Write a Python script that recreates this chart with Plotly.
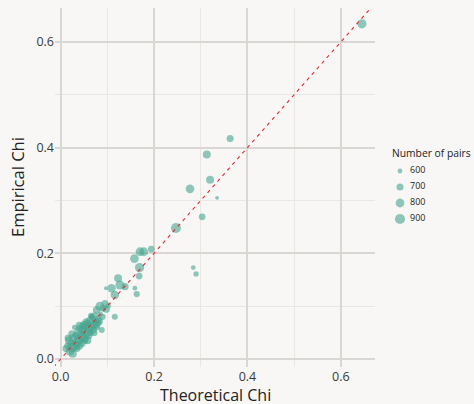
import numpy as np
import plotly.graph_objects as go

# Theoretical vs empirical chi for each pair of sites, with the number of pairs
theoretical_chi = [
    0.645, 0.363, 0.313, 0.320, 0.277, 0.335, 0.303, 0.247,
    0.170, 0.178, 0.194, 0.158, 0.169, 0.168, 0.284, 0.290,
    0.123, 0.097, 0.109, 0.127, 0.138, 0.159, 0.116, 0.163,
    0.084, 0.095, 0.077, 0.098, 0.116, 0.066, 0.102, 0.091,
    0.020, 0.025, 0.022, 0.030, 0.028, 0.035, 0.033, 0.040,
    0.038, 0.045, 0.042, 0.050, 0.048, 0.055, 0.053, 0.060,
    0.058, 0.065, 0.062, 0.070, 0.068, 0.075, 0.073, 0.080,
    0.078, 0.085, 0.088, 0.045, 0.035, 0.060, 0.030, 0.016,
    0.015, 0.026, 0.058, 0.072, 0.050, 0.082,
    0.012, 0.018, 0.024, 0.040, 0.052, 0.064, 0.070, 0.076,
    0.083, 0.090, 0.055, 0.047, 0.040, 0.065,
]
empirical_chi = [
    0.634, 0.417, 0.387, 0.339, 0.322, 0.305, 0.269, 0.248,
    0.203, 0.203, 0.208, 0.190, 0.173, 0.157, 0.173, 0.161,
    0.153, 0.134, 0.134, 0.140, 0.137, 0.134, 0.121, 0.123,
    0.100, 0.105, 0.093, 0.094, 0.080, 0.080, 0.101, 0.096,
    0.015, 0.022, 0.030, 0.025, 0.040, 0.032, 0.045, 0.038,
    0.052, 0.045, 0.058, 0.040, 0.055, 0.050, 0.062, 0.058,
    0.068, 0.060, 0.072, 0.065, 0.078, 0.070, 0.082, 0.075,
    0.060, 0.085, 0.055, 0.030, 0.020, 0.045, 0.060, 0.040,
    0.025, 0.010, 0.035, 0.050, 0.066, 0.068,
    0.020, 0.035, 0.048, 0.025, 0.035, 0.050, 0.055, 0.065,
    0.072, 0.080, 0.070, 0.063, 0.064, 0.082,
]
n_pairs = [
    830, 700, 750, 750, 795, 570, 680, 885,
    800, 800, 680, 800, 835, 680, 600, 620,
    750, 570, 780, 820, 700, 600, 780, 660,
    800, 700, 720, 700, 650, 640, 620, 680,
    800, 850, 700, 900, 780, 820, 700, 880,
    760, 800, 720, 850, 780, 900, 700, 820,
    680, 760, 740, 800, 660, 720, 700, 680,
    640, 620, 650, 760, 700, 740, 620, 700,
    680, 760, 720, 680, 700, 660,
    720, 760, 700, 740, 700, 680, 700, 740,
    700, 660, 720, 680, 700, 640,
]
legend_pairs = [600, 700, 800, 900]
legend_title = "Number of pairs"
x_title = "Theoretical Chi"
y_title = "Empirical Chi"

BG = "#f8f7f5"
POINT = "#46a590"
MAJOR = "#d9d7d4"
MINOR = "#e9e7e4"
TEXT = "#222222"
X_RANGE = [-0.012, 0.673]
Y_RANGE = [-0.015, 0.664]

W, H = 474, 404
M_L, M_T, M_B = 55, 8, 37
PLOT_RIGHT = 375           # right edge of the panel (px)
KEY_LEFT = 385             # left edge of the size key (px)
KEY_FIRST_ROW, KEY_ROW_STEP = 171, 16


def point_diameter(n):
    """Marker diameter (px) for a pair count, scaled by area."""
    n = np.asarray(n, dtype=float)
    return 10.2 * np.sqrt(np.clip(n - 515.0, 1.0, None) / 385.0)


inner_w = W - M_L
inner_h = H - M_T - M_B
panel_frac = (PLOT_RIGHT - M_L) / inner_w

fig = go.Figure()

fig.add_trace(go.Scatter(
    x=theoretical_chi, y=empirical_chi, mode="markers",
    marker=dict(size=point_diameter(n_pairs), color=POINT, opacity=0.6,
                line=dict(width=0)),
    showlegend=False, hoverinfo="skip",
))

# 1:1 reference line across the full axis span
lo, hi = min(X_RANGE[0], Y_RANGE[0]), max(X_RANGE[1], Y_RANGE[1])
fig.add_trace(go.Scatter(
    x=[lo, hi], y=[lo, hi], mode="lines",
    line=dict(color="#e4262f", width=1.1, dash="3.5px,4px"),
    showlegend=False, hoverinfo="skip",
))

# size key, drawn on its own hidden axes to the right of the panel
rows = list(range(len(legend_pairs)))
key_bottom = len(rows) - 1 + (M_T + inner_h - (KEY_FIRST_ROW + KEY_ROW_STEP * (len(rows) - 1))) / KEY_ROW_STEP
key_top = -(KEY_FIRST_ROW - M_T) / KEY_ROW_STEP
fig.add_trace(go.Scatter(
    x=[15] * len(rows), y=rows, mode="markers",
    marker=dict(size=point_diameter(legend_pairs), color=POINT, opacity=0.6,
                line=dict(width=0)),
    xaxis="x2", yaxis="y2", showlegend=False, hoverinfo="skip", cliponaxis=False,
))
fig.add_trace(go.Scatter(
    x=[25] * len(rows), y=rows, mode="text", text=[str(n) for n in legend_pairs],
    textposition="middle right",
    textfont=dict(family="Open Sans", size=9, color=TEXT),
    xaxis="x2", yaxis="y2", showlegend=False, hoverinfo="skip", cliponaxis=False,
))
fig.add_annotation(
    x=5, y=-1.12, xref="x2", yref="y2", text=legend_title, showarrow=False,
    xanchor="left", yanchor="middle",
    font=dict(family="Open Sans", size=10.3, color=TEXT),
)

# axis titles
fig.add_annotation(
    x=panel_frac / 2, y=-27.5 / inner_h, xref="paper", yref="paper",
    text=x_title, showarrow=False, xanchor="center", yanchor="middle",
    font=dict(family="Open Sans", size=16, color=TEXT),
)
fig.add_annotation(
    x=-37.5 / inner_w, y=0.5, xref="paper", yref="paper",
    text=y_title, showarrow=False, textangle=-90,
    xanchor="center", yanchor="middle",
    font=dict(family="Open Sans", size=16.5, color=TEXT),
)

axis_common = dict(
    showgrid=True, gridcolor=MAJOR, gridwidth=1.6, zeroline=False,
    showline=False, ticks="", dtick=0.2, tick0=0, tickformat=".1f",
    automargin=False,
    tickfont=dict(family="Open Sans", size=12.5, color="#3a3a3a"),
    minor=dict(dtick=0.1, tick0=0, showgrid=True, gridcolor=MINOR, gridwidth=1),
)

hidden = dict(visible=False, showgrid=False, zeroline=False, automargin=False)

fig.update_layout(
    width=W, height=H,
    margin=dict(l=M_L, r=0, t=M_T, b=M_B),
    paper_bgcolor=BG, plot_bgcolor=BG,
    font=dict(family="Open Sans", color=TEXT),
    showlegend=False,
    xaxis=dict(range=X_RANGE, domain=[0, panel_frac], **axis_common),
    yaxis=dict(range=Y_RANGE, **axis_common),
    xaxis2=dict(range=[0, W - KEY_LEFT], domain=[(KEY_LEFT - M_L) / inner_w, 1],
                anchor="y2", **hidden),
    yaxis2=dict(range=[key_bottom, key_top], domain=[0, 1], anchor="x2", **hidden),
)

fig.write_html("out.html")
